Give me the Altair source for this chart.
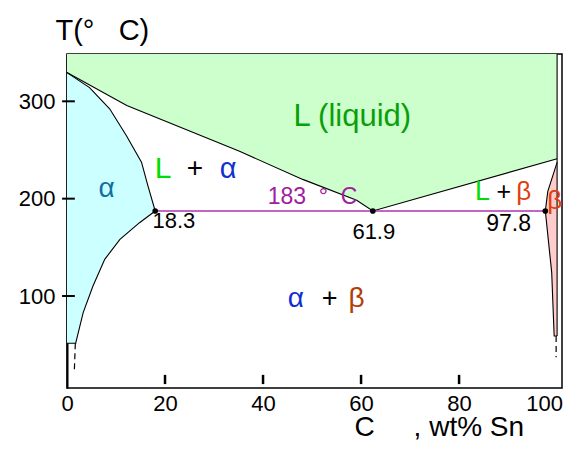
import altair as alt
import pandas as pd

FONT = "Liberation Sans"
NB = "\u00a0"

# ---- data (C = wt% Sn, T = temperature) ----
T_TOP = 348.6
# liquidus
liq_C = [0.0, 12.2, 35.2, 48.1, 59.1, 62.4, 100.0]
liq_T = [329.5, 295.8, 248.6, 219.8, 198.3, 187.3, 241.0]
# alpha boundary: solidus then solvus (top to bottom)
alpha_C = [0.0, 4.6, 8.7, 12.1, 15.2, 16.5, 18.0, 14.8, 10.8, 7.7, 5.3, 3.3, 1.8, 1.8]
alpha_T = [329.5, 314.1, 292.3, 264.8, 237.5, 213.4, 187.3, 175.3, 158.2, 137.7, 110.2, 82.9, 52.1, 51.4]
# beta boundary (top to bottom)
beta_C = [100.0, 98.1, 97.6, 98.9, 99.4]
beta_T = [237.3, 207.5, 187.3, 124.0, 58.9]
# eutectic
eut_T = 187.3
eut_C = [18.0, 62.4, 97.6]
# dashed extensions of the solvus lines
dash_left_C = [1.7, 1.5]
dash_left_T = [51.4, 23.6]
dash_right_C = [99.8, 99.8]
dash_right_T = [58.9, 37.0]

x_ticks = [20, 40, 60, 80]
x_labels = [0, 20, 40, 60, 80, 100]
y_ticks = [100, 200, 300]

# text annotations
txt = ["L (liquid)", "α", "L", "+", "α", "183" + NB + NB + "°" + NB + NB + "C",
       "18.3", "61.9", "97.8", "L", "+", "β", "β", "α", "+", "β"]
txt_C = [58.2, 8.1, 19.6, 26.1, 32.9, 50.1, 21.8, 62.6, 90.1, 84.8, 89.1, 93.2, 99.5, 46.7, 53.6, 59.1]
txt_T = [283.5, 209.5, 230.0, 230.0, 230.0, 201.3, 176.7, 165.4, 173.6, 207.0, 207.0, 207.0, 197.2, 96.6, 96.6, 96.6]
txt_color = ["#0a9e0a", "#1070a0", "#00dd00", "#000000", "#1030d0", "#a020a0",
             "#000000", "#000000", "#000000", "#00dd00", "#000000", "#e04010", "#e04010",
             "#1030d0", "#000000", "#b0400a"]
txt_size = [31, 28, 30, 28, 29, 23, 22, 22, 23, 27, 25, 26, 26, 28, 27, 28]

# ---- tables ----
xs = alt.Scale(domain=[0, 101], nice=False, zero=False)
ys = alt.Scale(domain=[5.5, T_TOP], nice=False, zero=False)

green = pd.DataFrame({"C": liq_C, "T": liq_T, "T2": [T_TOP] * len(liq_C)})
cyan = pd.DataFrame({"C": alpha_C, "T": alpha_T})
pink = pd.DataFrame({"C": beta_C, "T": beta_T})

rows = []
def add(name, C, T):
    for i, (c, t) in enumerate(zip(C, T)):
        rows.append({"s": name, "i": i, "C": c, "T": t})
add("liq", liq_C, liq_T)
add("alpha", alpha_C + [0.0], alpha_T + [alpha_T[-1]])
add("beta", beta_C + [100.0], beta_T + [beta_T[-1]])
add("edge", [100.0, 100.0], [T_TOP, beta_T[-1]])
lines = pd.DataFrame(rows)

drows = []
for name, C, T in [("l", dash_left_C, dash_left_T), ("r", dash_right_C, dash_right_T)]:
    for i, (c, t) in enumerate(zip(C, T)):
        drows.append({"s": name, "i": i, "C": c, "T": t})
dashes = pd.DataFrame(drows)

eut = pd.DataFrame({"C": [eut_C[0]], "C2": [eut_C[-1]], "T": [eut_T]})
dots = pd.DataFrame({"C": eut_C, "T": [eut_T] * 3})
xt = pd.DataFrame({"C": x_ticks, "T": [9.5] * 4, "T2": [19.0] * 4})
yt = pd.DataFrame({"C": [-1.0] * 3, "C2": [1.6] * 3, "T": y_ticks})
labels = pd.DataFrame({"t": txt, "C": txt_C, "T": txt_T, "col": txt_color, "fs": txt_size})

X_TITLE = "C" + NB * 5 + "," + NB + "wt%" + NB + "Sn"
Y_TITLE = "T(°" + NB * 3 + "C)"

xaxis = alt.Axis(values=x_labels, ticks=False, domain=False, grid=False,
                 labelFont=FONT, labelFontSize=22, labelColor="black", labelPadding=5,
                 labelFlush=False,
                 labelOffset=alt.expr("datum.value == 100 ? -13 : 0"),
                 title=X_TITLE,
                 titleFont=FONT, titleFontSize=28, titleFontWeight="normal",
                 titleColor="black", titleAlign="left", titleBaseline="alphabetic",
                 titleX=287, titleY=47)
yaxis = alt.Axis(values=y_ticks, ticks=False, domain=True, domainColor="black",
                 domainWidth=2, grid=False, labelFont=FONT, labelFontSize=22,
                 labelColor="black", labelPadding=12,
                 title=Y_TITLE, titleFont=FONT, titleFontSize=29,
                 titleFontWeight="normal", titleColor="black", titleAngle=0,
                 titleAlign="left", titleBaseline="alphabetic",
                 titleX=-12, titleY=-15)

def X(f="C"):
    return alt.X(f + ":Q", scale=xs, axis=xaxis, title=X_TITLE)

def Y(f="T"):
    return alt.Y(f + ":Q", scale=ys, axis=yaxis, title=Y_TITLE)

# ---- layers ----
base_green = alt.Chart(green).mark_area(color="#ccffcc").encode(x=X(), y=Y(), y2="T2:Q")

cyan_l = alt.Chart(cyan).mark_area(orient="horizontal", color="#ccffff").encode(
    x=X(), x2=alt.datum(0), y=Y())
pink_l = alt.Chart(pink).mark_area(orient="horizontal", color="#ffcccc").encode(
    x=X(), x2=alt.datum(100), y=Y())

line_l = alt.Chart(lines).mark_line(color="black", strokeWidth=1.1).encode(
    x=X(), y=Y(), detail="s:N", order="i:Q")
dash_l = alt.Chart(dashes).mark_line(color="black", strokeWidth=1.2, strokeDash=[6, 4]).encode(
    x=X(), y=Y(), detail="s:N", order="i:Q")

eut_l = alt.Chart(eut).mark_rule(color="#b030b0", strokeWidth=1.5).encode(
    x=X(), x2="C2:Q", y=Y())
dot_l = alt.Chart(dots).mark_circle(color="black", size=32, opacity=1).encode(x=X(), y=Y())

xt_l = alt.Chart(xt).mark_rule(color="black", strokeWidth=2.5).encode(x=X(), y=Y(), y2="T2:Q")
yt_l = alt.Chart(yt).mark_rule(color="black", strokeWidth=2).encode(x=X(), x2="C2:Q", y=Y())

text_l = alt.Chart(labels).mark_text(font=FONT, align="center", baseline="middle").encode(
    x=X(), y=Y(), text="t:N",
    color=alt.Color("col:N", scale=None), size=alt.Size("fs:Q", scale=None))

chart = alt.layer(base_green, cyan_l, pink_l, line_l, dash_l, eut_l, dot_l, xt_l, yt_l, text_l).properties(
    width=495, height=334,
    autosize=alt.AutoSizeParams(type="none"),
    padding={"left": 59, "top": 46, "right": 1, "bottom": 53},
    background="white",
).configure_view(stroke="black", strokeWidth=1.5)

chart.save("out.html", embed_options={"renderer": "svg", "actions": False})
